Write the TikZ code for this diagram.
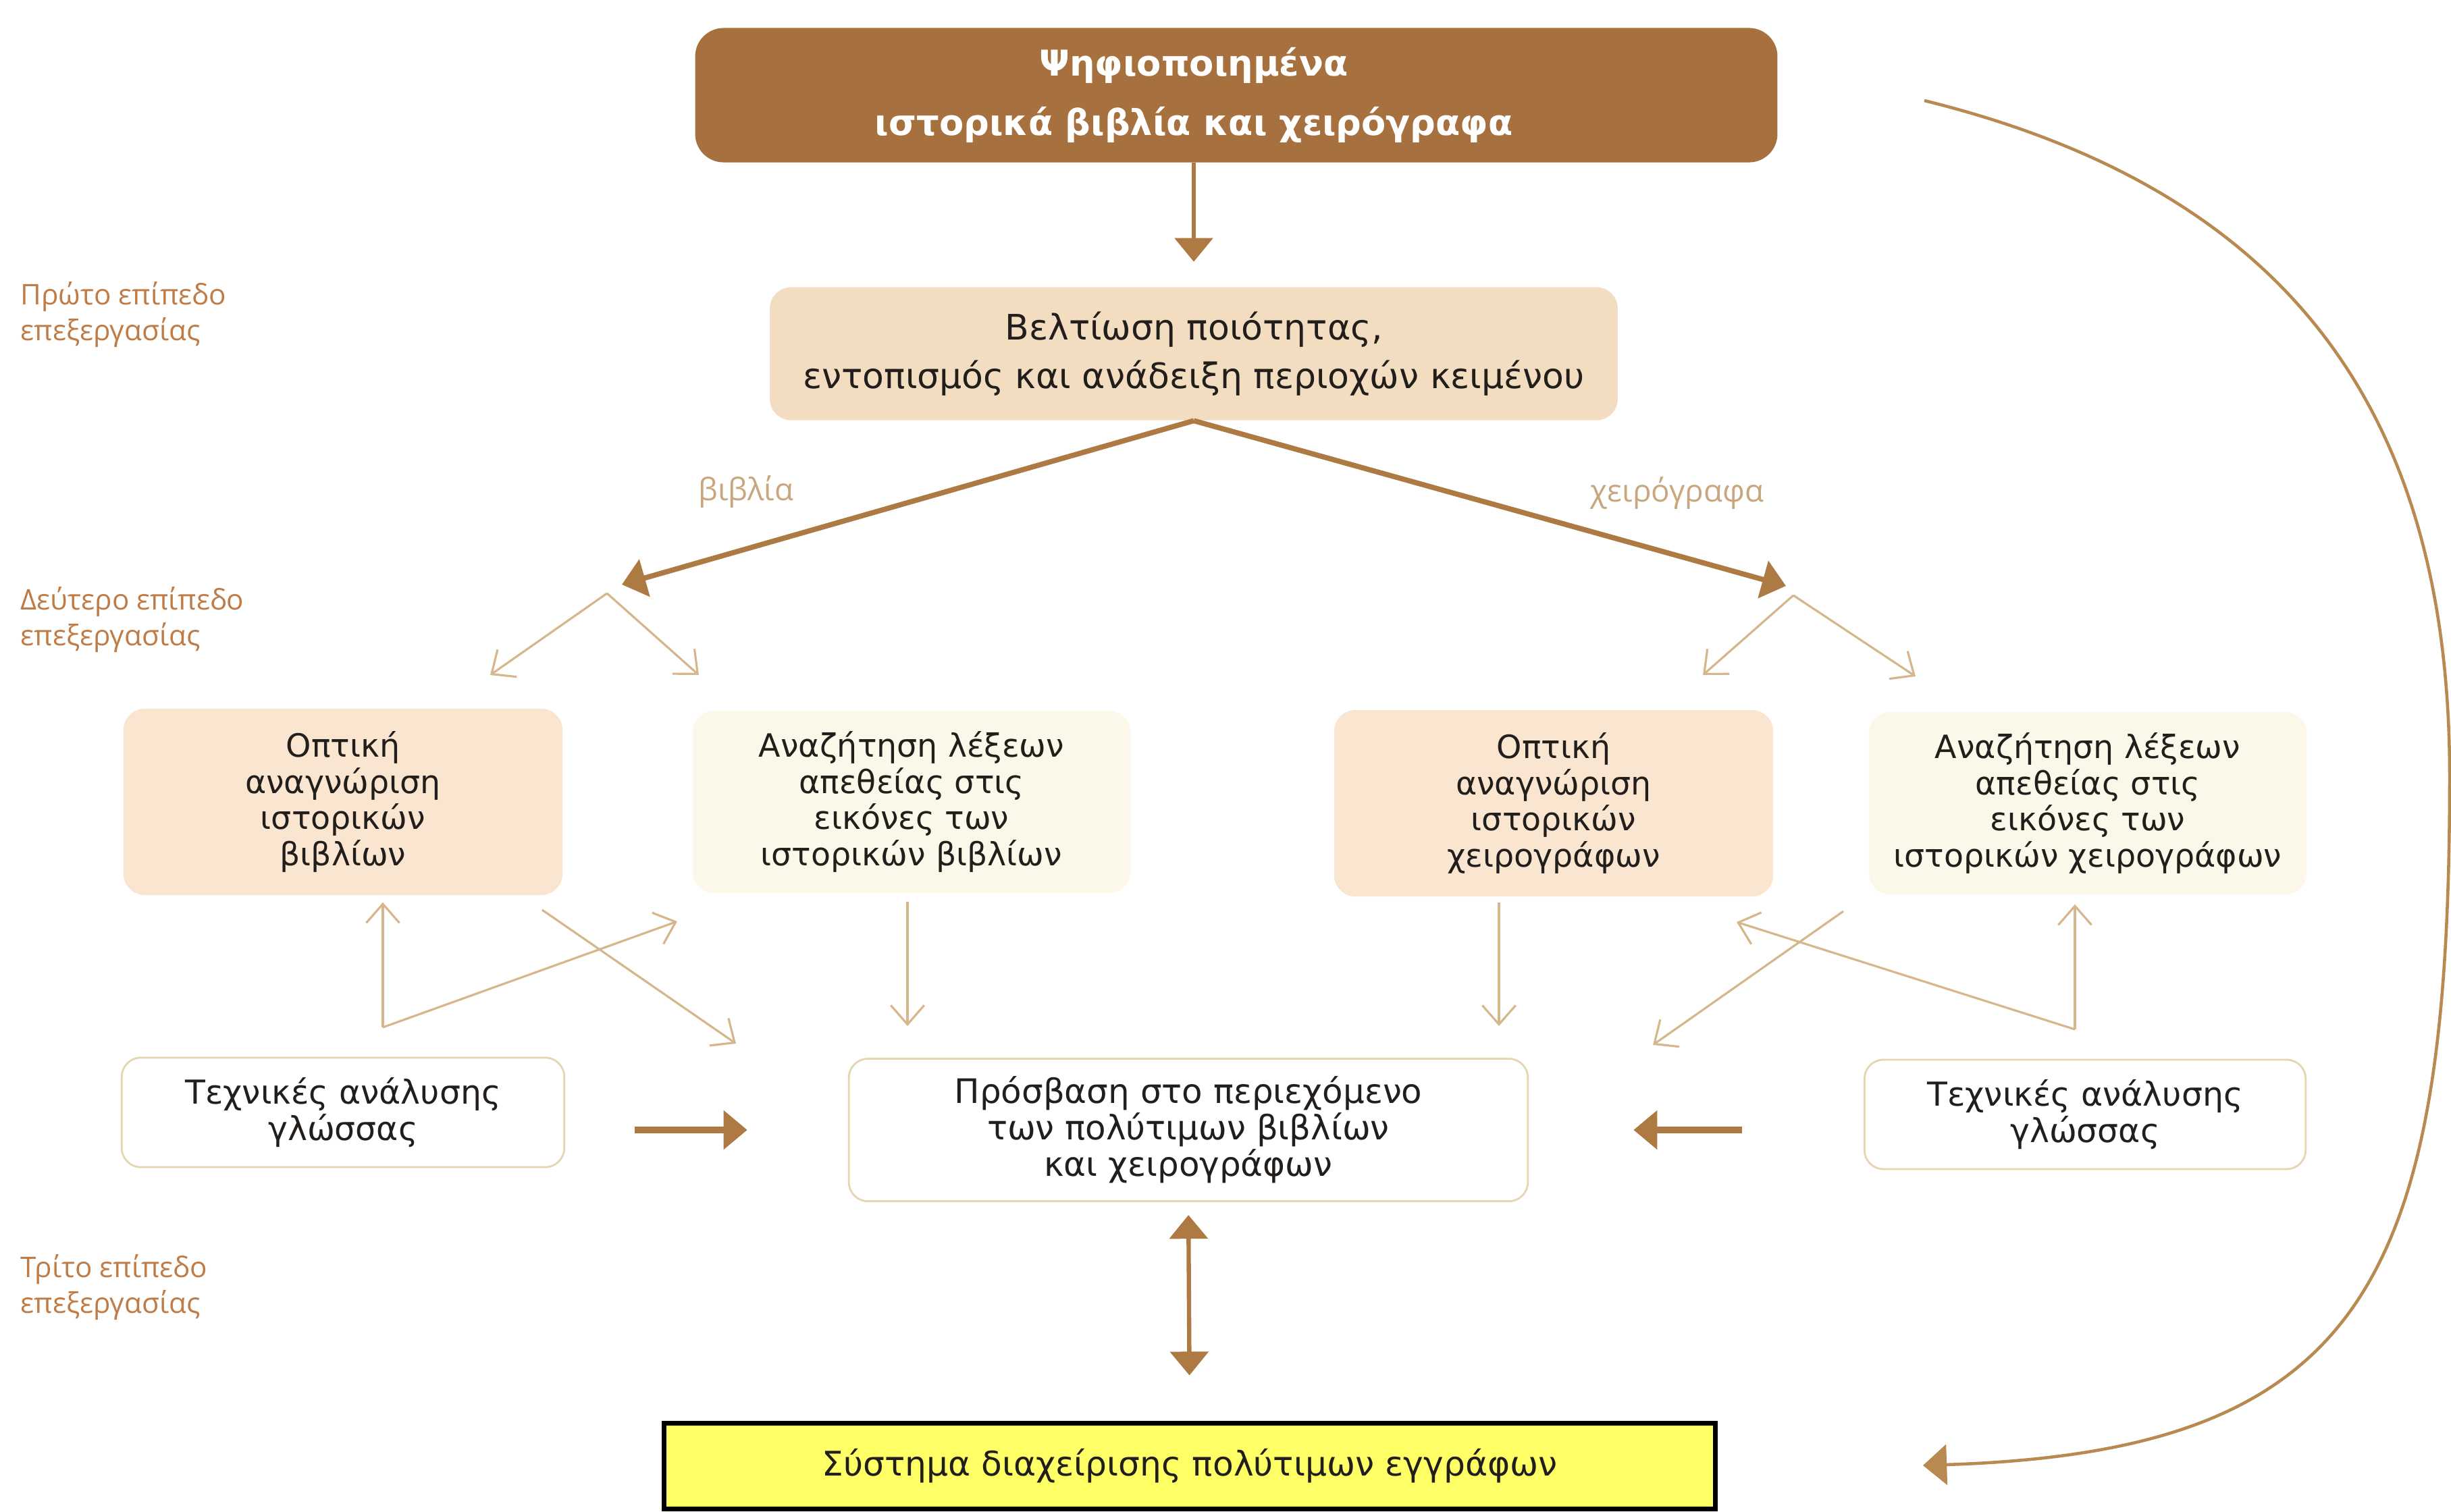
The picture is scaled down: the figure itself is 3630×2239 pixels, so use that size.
\documentclass[tikz,border=0pt]{standalone}
\usepackage{fontspec}
\setmainfont{DejaVu Sans}
\newfontfamily\sidefont{Open Sans}
\usetikzlibrary{arrows.meta}
\definecolor{topbrown}{RGB}{166,113,62}
\definecolor{qfill}{RGB}{243,221,192}
\definecolor{peach}{RGB}{250,229,209}
\definecolor{cream}{RGB}{252,248,233}
\definecolor{lthreeborder}{RGB}{228,214,176}
\definecolor{thinarrcol}{RGB}{214,182,140}
\definecolor{thickarrcol}{RGB}{174,122,68}
\definecolor{curvecol}{RGB}{184,138,82}
\definecolor{lvlcol}{RGB}{192,124,70}
\definecolor{branchcol}{RGB}{200,166,126}
\definecolor{sysyellow}{RGB}{255,255,102}
\definecolor{txtcol}{RGB}{34,30,28}
\begin{document}
\begin{tikzpicture}[x=0.01cm,y=-0.01cm,
  boxtext/.style={align=center, inner sep=0pt, text=txtcol, font=\fontsize{13.5}{15.2}\selectfont},
  topbox/.style={fill=topbrown, rounded corners=12pt, minimum width=16.02cm, minimum height=1.99cm, inner sep=0pt},
  toptext/.style={align=center, inner sep=0pt, text=white, font=\bfseries\fontsize{15}{25}\selectfont},
  qbox/.style={boxtext, fill=qfill, rounded corners=9pt, minimum width=12.55cm, minimum height=1.97cm, font=\fontsize{14.8}{20.5}\selectfont},
  peachbox/.style={boxtext, fill=peach, rounded corners=9pt, minimum width=6.5cm, minimum height=2.76cm},
  creambox/.style={boxtext, fill=cream, rounded corners=9pt, minimum width=6.48cm, minimum height=2.7cm},
  lthreebox/.style={boxtext, fill=white, draw=lthreeborder, line width=0.8pt, rounded corners=8pt, minimum height=1.62cm},
  sysbox/.style={boxtext, fill=sysyellow, draw=black, line width=2.2pt, minimum width=15.56cm, minimum height=1.27cm, font=\fontsize{14.3}{16}\selectfont},
  lvllabel/.style={align=left, anchor=west, inner sep=0pt, text=lvlcol, font=\sidefont\fontsize{12}{15}\selectfont},
  branchlabel/.style={inner sep=0pt, text=branchcol, font=\sidefont\fontsize{13}{15}\selectfont},
  thickarr/.style={draw=thickarrcol, line width=2.2pt, -{Triangle[length=10pt,width=16pt]}},
  thinarr/.style={draw=thinarrcol, line width=0.9pt, -{Straight Barb[length=8pt,width=14pt]}},
  curvearr/.style={draw=curvecol, line width=1.3pt, -{Triangle[length=10pt,width=17pt]}}
]
\useasboundingbox (0,0) rectangle (3630,2239);
\fill[white] (0,0) rectangle (3630,2239);

% level labels
\node[lvllabel] (lv1) at (30,466) {Πρώτο επίπεδο\\επεξεργασίας};
\node[lvllabel] (lv2) at (30,918) {Δεύτερο επίπεδο\\επεξεργασίας};
\node[lvllabel] (lv3) at (30,1907) {Τρίτο επίπεδο\\επεξεργασίας};

% top
\node[topbox] (top) at (1831,141) {};
\node[toptext] (toptxt) at (1768,141) {Ψηφιοποιημένα\\ιστορικά βιβλία και χειρόγραφα};

% quality box
\node[qbox] (q) at (1768,524) {Βελτίωση ποιότητας,\\εντοπισμός και ανάδειξη περιοχών κειμένου};

\draw[thickarr, line width=1.7pt, shorten >=0.37cm] (top.south -| q.north) -- (q.north);

% branch labels
\node[branchlabel] (lbooks) at (1105,729) {βιβλία};
\node[branchlabel] (lmanu) at (2484,731) {χειρόγραφα};

% split coordinates
\coordinate (sl) at (921,866);
\coordinate (sr) at (2645,868);
\draw[thickarr] (q.south) -- (sl);
\draw[thickarr] (q.south) -- (sr);

\coordinate (al) at (899,879);
\coordinate (al1) at (726,1000);
\coordinate (al2) at (1035,1000);
\coordinate (ar) at (2656,882);
\coordinate (ar1) at (2522,1000);
\coordinate (ar2) at (2837,1002);
\draw[thinarr] (al) -- (al1);
\draw[thinarr] (al) -- (al2);
\draw[thinarr] (ar) -- (ar1);
\draw[thinarr] (ar) -- (ar2);

% level 2 boxes
\node[peachbox] (b1) at (508,1188) {Οπτική\\αναγνώριση\\ιστορικών\\βιβλίων};
\node[creambox] (b2) at (1350,1188) {Αναζήτηση λέξεων\\απεθείας στις\\εικόνες των\\ιστορικών βιβλίων};
\node[peachbox] (b3) at (2301,1190) {Οπτική\\αναγνώριση\\ιστορικών\\χειρογράφων};
\node[creambox] (b4) at (3092,1190) {Αναζήτηση λέξεων\\απεθείας στις\\εικόνες των\\ιστορικών χειρογράφων};

% level 3 boxes
\node[lthreebox, minimum width=6.55cm, font=\fontsize{13.9}{15.2}\selectfont] (l1) at (508,1648) {Τεχνικές ανάλυσης\\γλώσσας};
\node[lthreebox, minimum width=10.05cm, minimum height=2.11cm, font=\fontsize{14.2}{15.4}\selectfont] (c) at (1760,1674) {Πρόσβαση στο περιεχόμενο\\των πολύτιμων βιβλίων\\και χειρογράφων};
\node[lthreebox, minimum width=6.53cm, font=\fontsize{13.9}{15.2}\selectfont] (r1) at (3088,1651) {Τεχνικές ανάλυσης\\γλώσσας};

% left crossing arrows
\coordinate (cl) at (567,1522);
\coordinate (clt) at (1003,1365);
\draw[thinarr, shorten >=0.1cm] (cl) -- (cl |- b1.south);
\draw[thinarr] (cl) -- (clt);
\coordinate (bo1) at (803,1348);
\coordinate (ci1) at (1090,1546);
\draw[thinarr] (bo1) -- (ci1);
\coordinate (bo2) at (1344,1336);
\coordinate (ci2) at (1344,1520);
\draw[thinarr] (bo2) -- (ci2);

% right crossing arrows
\coordinate (bo3) at (2220,1337);
\coordinate (ci3) at (2220,1520);
\draw[thinarr] (bo3) -- (ci3);
\coordinate (bo4) at (2730,1350);
\coordinate (ci4) at (2448,1548);
\draw[thinarr] (bo4) -- (ci4);
\coordinate (cr) at (3073,1525);
\coordinate (crt) at (2572,1366);
\draw[thinarr, shorten >=0.14cm] (cr) -- (cr |- b4.south);
\draw[thinarr] (cr) -- (crt);

% thick horizontal arrows
\draw[thickarr, line width=2.8pt, shorten <=1.03cm, shorten >=1.49cm] (l1.east |- c.west) -- (c.west);
\draw[thickarr, line width=2.8pt, shorten <=1.80cm, shorten >=1.55cm] (r1.west |- c.east) -- (c.east);

% bottom system
\node[sysbox] (sys) at (1762,2172) {Σύστημα διαχείρισης πολύτιμων εγγράφων};
\draw[thickarr, line width=1.8pt, {Triangle[length=10pt,width=16pt]}-{Triangle[length=10pt,width=16pt]}, shorten <=0.19cm, shorten >=0.67cm] (c.south) -- (sys.north);

% big curve
\coordinate (cs) at (2850,149);
\coordinate (ce) at (2848,2171);
\draw[curvearr] (cs) .. controls (3380,280) and (3628,600) .. (3628,1150)
  .. controls (3628,1900) and (3500,2150) .. (ce);
\end{tikzpicture}
\end{document}
